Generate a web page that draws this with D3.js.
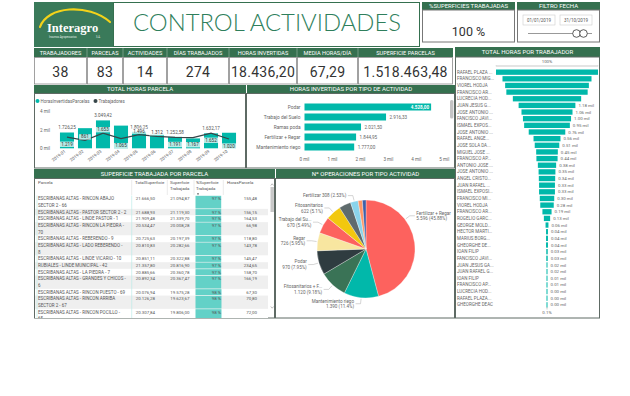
<!DOCTYPE html>
<html>
<head>
<meta charset="utf-8">
<script src="https://cdn.jsdelivr.net/npm/d3@7"></script>
<style>
  body { margin: 0; background: #fff; }
  svg { display: block; font-family: Roboto, "Liberation Sans", sans-serif; }
</style>
</head>
<body>
<svg id="chart" width="630" height="396"></svg>
<script>
// Data
var kpiLabels = ['TRABAJADORES', 'PARCELAS', 'ACTIVIDADES', 'DÍAS TRABAJADOS', 'HORAS INVERTIDAS', 'MEDIA HORAS/DÍA', 'SUPERFICIE PARCELAS'];
var kpiValues = ['38', '83', '14', '274', '18.436,20', '67,29', '1.518.463,48'];
var pctSuperficies = '100 %';
var fechaDesde = '01/01/2019';
var fechaHasta = '31/10/2019';

var meses = ['2019-01', '2019-02', '2019-03', '2019-04', '2019-05', '2019-06', '2019-07', '2019-08', '2019-09', '2019-10'];
var horasMes = [1726.25, 2200, 3049.42, 2480, 1806.25, 1500, 1252.58, 1080, 1632.17, 1700];
var trabajadoresMes = [1219, 861, 1653, 1065, 1496, 1312, 1191, 1167, 1652, 1020];

var actividades = ['Podar', 'Trabajo del Suelo', 'Ramas poda', 'Fertilizar + Regar', 'Mantenimiento riego'];
var horasActividad = [4528, 2916.33, 2021.5, 1844.95, 1777];

// parcel names as the table wraps them (\n = line break in the cell)
var parcelas = [
  'ESCRIBANAS ALTAS - RINCON ABAJO\nSECTOR 2 - 66',
  'ESCRIBANAS ALTAS - PASTOR SECTOR 2 - 2',
  'ESCRIBANAS ALTAS - LINDE PASTOR - 1',
  'ESCRIBANAS ALTAS - RINCON LA PIEDRA -\n70',
  'ESCRIBANAS ALTAS - REBERENDO - 9',
  'ESCRIBANAS ALTAS - LADO REBERENDO -\n8',
  'ESCRIBANAS ALTAS - LINDE VICARIO - 10',
  'RUBIALES - LINDE MUNICIPAL - 42',
  'ESCRIBANAS ALTAS - LA PIEDRA - 7',
  'ESCRIBANAS ALTAS - GRANDES Y CHICOS -\n6',
  'ESCRIBANAS ALTAS - RINCON PUESTO - 69',
  'ESCRIBANAS ALTAS - RINCON ARRIBA\nSECTOR 2 - 67',
  'ESCRIBANAS ALTAS - RINCON POCILLO -\n65'
];
var totalSuperficie = [21666.50, 21688.93, 21909.48, 20534.47, 20725.63, 20810.83, 20851.11, 21357.80, 20885.66, 20892.34, 20076.94, 20126.28, 20307.84];
var superficieTrabajada = [21094.87, 21119.30, 21339.70, 20008.28, 20197.39, 20282.66, 20322.88, 20816.90, 20360.78, 20367.47, 19575.28, 19623.67, 19806.00];
var pctSuperficie = [97, 97, 97, 97, 97, 97, 97, 97, 97, 97, 98, 98, 98];
var horasParcela = [155.48, 156.15, 164.53, 66.98, 118.80, 143.78, 145.47, 234.65, 158.70, 166.19, 67.30, 70.80, 72.00];

var tiposOperacion = ['Fertilizar + Regar', 'Mantenimiento riego', 'Fitosanitarios + F...', 'Podar', 'Regar', 'Trabajo del Su...', 'Fitosanitarios', 'Ramas poda', 'Fertilizar', 'Desbroce', 'Otros'];
var operaciones = [5596, 1390, 1120, 970, 726, 670, 622, 480, 308, 170, 145];
var sinEtiqueta = ['Ramas poda', 'Desbroce', 'Otros'];

var trabajadores = ['RAFAEL PLAZA ...', 'FRANCISCO MIG...', 'VIOREL HODJA', 'FRANCISCO AR...', 'LUCRECIA HOD...',
  'JUAN JESUS G...', 'JOSE ANTONIO ...', 'FANCISCO JAVI...', 'ISMAEL EXPOS...', 'JOSE ANTONIO ...',
  'RAFAEL ANGE...', 'JOSE SOLA DA...', 'MIGUEL JOSE ...', 'FRANCISCO AP...', 'ANTONIO JOSE ...',
  'JOSE ANTONIO ...', 'ANGEL CRISTO...', 'JUAN RAFAEL ...', 'ISMAEL EXPOSI...', 'FRANCISCO MI...',
  'VIOREL HODJA', 'FRANCISCO AR...', 'ROGELIO GARC...', 'GEORGE MOLD...', 'HECTOR MARTI...',
  'MARIUS BORG...', 'GHEORGHE DE...', 'IOAN FILIP', 'FANCISCO JAVI...', 'JUAN JESUS GA...',
  'JUAN RAFAEL G...', 'IOAN FILIP', 'FRANCISCO AP...', 'LUCRECIA HOD...', 'RAFAEL PLAZA...', 'GHEORGHE DEAC'];
var horasTrabajador = [2120, 1850, 1740, 1690, 1420, 1180, 1060, 1000, 950, 760, 560, 510, 450, 440, 380, 350,
  340, 330, 330, 300, 280, 190, 130, 60, 40, 40, 40, 30, 30, 20, 20, 10, 10, 4, 3, 2];

// Styles
var GREEN = '#35704f';
var TEAL = '#01B8AA';
var DARK = '#374649';
var TXT = '#666';
var BORDER = '#5e6a64';

var es = d3.formatLocale({ decimal: ',', thousands: '.', grouping: [3], currency: ['', ''] });
var f2 = es.format(',.2f');
var f0 = es.format(',.0f');

var svg = d3.select('#chart');

function header(x0, x1, y0, y1, label) {
  svg.append('rect').attr('x', x0).attr('y', y0).attr('width', x1 - x0).attr('height', y1 - y0).attr('fill', GREEN);
  svg.append('text').attr('x', (x0 + x1) / 2).attr('y', (y0 + y1) / 2 + 2.1)
    .attr('text-anchor', 'middle').attr('fill', '#fff').attr('font-size', 6).text(label);
}
function frame(x0, x1, y0, y1, stroke) {
  svg.append('rect').attr('x', x0 + 0.5).attr('y', y0).attr('width', x1 - x0 - 1).attr('height', y1 - y0 - 0.5)
    .attr('fill', '#fff').attr('stroke', stroke || BORDER).attr('stroke-width', 1);
}

// ---------- Logo ----------
svg.append('rect').attr('x', 34).attr('y', 2).attr('width', 79).attr('height', 45).attr('fill', '#3a7a5a');
svg.append('path').attr('d', 'M40,27 C47,6 88,3 110,22').attr('fill', 'none')
  .attr('stroke', '#f3d21a').attr('stroke-width', 2.2).attr('stroke-linecap', 'round');
svg.append('text').attr('x', 47).attr('y', 32).attr('fill', '#fff').attr('font-size', 12.5)
  .attr('font-weight', 'bold').attr('font-family', '"Liberation Serif", serif').text('Interagro');
svg.append('text').attr('x', 49).attr('y', 37.5).attr('fill', '#e0eee6').attr('font-size', 2.6).text('Insumos Agropecuarios');
svg.append('text').attr('x', 96).attr('y', 37.5).attr('fill', '#e0eee6').attr('font-size', 2.6).text('S.A.');

// ---------- Title ----------
svg.append('rect').attr('x', 113.5).attr('y', 2.5).attr('width', 306).attr('height', 44)
  .attr('fill', '#fff').attr('stroke', GREEN).attr('stroke-width', 1);
svg.append('text').attr('x', 267).attr('y', 30.5).attr('text-anchor', 'middle').attr('fill', '#2f7f5c')
  .attr('font-size', 23).attr('font-family', 'Lato, Roboto, sans-serif').attr('font-weight', 300)
  .attr('textLength', 268).attr('lengthAdjust', 'spacingAndGlyphs').text('CONTROL ACTIVIDADES');

// ---------- % superficies ----------
header(422, 515, 2, 10, '%SUPERFICIES TRABAJADAS');
frame(422, 515, 10, 42.5, '#777');
svg.append('text').attr('x', 468.5).attr('y', 35.5).attr('text-anchor', 'middle').attr('fill', '#333')
  .attr('font-size', 12.5).text(pctSuperficies);

// ---------- Filtro fecha ----------
header(517, 600, 2, 10, 'FILTRO FECHA');
frame(517, 600, 10, 42.5, '#777');
[[523, fechaDesde], [560, fechaHasta]].forEach(function (d) {
  svg.append('rect').attr('x', d[0]).attr('y', 15).attr('width', 32).attr('height', 10)
    .attr('fill', '#fff').attr('stroke', '#ccc').attr('stroke-width', 0.6);
  svg.append('text').attr('x', d[0] + 16).attr('y', 21.6).attr('text-anchor', 'middle')
    .attr('font-size', 4.5).attr('fill', '#555').text(d[1]);
});
svg.append('line').attr('x1', 528).attr('x2', 592).attr('y1', 33.5).attr('y2', 33.5).attr('stroke', '#999').attr('stroke-width', 1.2);
[576.5, 583.5].forEach(function (cx) {
  svg.append('circle').attr('cx', cx).attr('cy', 33.5).attr('r', 3.8).attr('fill', '#fff').attr('stroke', '#333').attr('stroke-width', 0.8);
});

// ---------- KPI row ----------
var kpiEdges = [34, 87, 123, 167, 229, 297, 358, 453];
kpiLabels.forEach(function (lab, i) {
  var x0 = kpiEdges[i], x1 = kpiEdges[i + 1];
  svg.append('rect').attr('x', x0).attr('y', 48).attr('width', x1 - x0).attr('height', 9).attr('fill', GREEN);
  if (i > 0) svg.append('line').attr('x1', x0).attr('x2', x0).attr('y1', 48).attr('y2', 57).attr('stroke', '#9bb8a8').attr('stroke-width', 0.6);
  svg.append('text').attr('x', (x0 + x1) / 2).attr('y', 54.6).attr('text-anchor', 'middle')
    .attr('fill', '#fff').attr('font-size', 5.6).text(lab);
  svg.append('rect').attr('x', x0 + 0.5).attr('y', 57.5).attr('width', x1 - x0 - 1).attr('height', 26.5)
    .attr('fill', '#fff').attr('stroke', '#8a8a8a').attr('stroke-width', 0.8);
  svg.append('text').attr('x', (x0 + x1) / 2).attr('y', 77).attr('text-anchor', 'middle')
    .attr('fill', '#333').attr('font-size', 14).attr('letter-spacing', 0.3).text(kpiValues[i]);
});

// ---------- Total horas parcela ----------
header(34, 246, 85, 93.5, 'TOTAL HORAS PARCELA');
frame(34, 246, 93.5, 168.5);

svg.append('circle').attr('cx', 37.5).attr('cy', 101).attr('r', 2).attr('fill', TEAL);
svg.append('text').attr('x', 40.5).attr('y', 102.6).attr('font-size', 4.5).attr('fill', TXT).text('HorasInvertidasParcelas');
svg.append('circle').attr('cx', 95.5).attr('cy', 101).attr('r', 2).attr('fill', DARK);
svg.append('text').attr('x', 98.5).attr('y', 102.6).attr('font-size', 4.5).attr('fill', TXT).text('Trabajadores');

var xm = d3.scaleBand().domain(meses).range([56, 240]).padding(0.22);
var ym = d3.scaleLinear().domain([0, 4000]).range([148.3, 111.7]);

svg.append('g').selectAll('text').data([0, 2000, 4000]).enter().append('text')
  .attr('x', 50).attr('y', function (d) { return ym(d) + 1.6; }).attr('text-anchor', 'end')
  .attr('font-size', 4.6).attr('fill', TXT).text(function (d) { return (d / 1000) + ' mil'; });

svg.append('g').selectAll('rect').data(horasMes).enter().append('rect')
  .attr('x', function (d, i) { return xm(meses[i]); })
  .attr('y', function (d) { return ym(d); })
  .attr('width', xm.bandwidth())
  .attr('height', function (d) { return ym(0) - ym(d); })
  .attr('fill', TEAL);

svg.append('g').selectAll('text').data(d3.range(0, horasMes.length, 2)).enter().append('text')
  .attr('x', function (i) { return xm(meses[i]) + xm.bandwidth() / 2; })
  .attr('y', function (i) { return ym(horasMes[i]) - 3.2; })
  .attr('text-anchor', 'middle').attr('font-size', 4.6).attr('fill', '#555').text(function (i) { return f2(horasMes[i]); });

svg.append('g').selectAll('text').data(meses).enter().append('text')
  .attr('transform', function (d) { return 'translate(' + (xm(d) + xm.bandwidth() / 2 - 1) + ',152) rotate(-38)'; })
  .attr('text-anchor', 'end').attr('font-size', 4.4).attr('fill', TXT).text(function (d) { return d; });

var line = d3.line()
  .x(function (d, i) { return xm(meses[i]) + xm.bandwidth() / 2; })
  .y(function (d) { return ym(d); });
svg.append('path').datum(trabajadoresMes).attr('d', line).attr('fill', 'none').attr('stroke', DARK).attr('stroke-width', 1.2);

var lineLabelBelow = [true, false, false, true, false, false, true, true, true, true];
trabajadoresMes.forEach(function (v, i) {
  var cx = xm(meses[i]) + xm.bandwidth() / 2;
  var cy = ym(v) + (lineLabelBelow[i] ? 7 : -3.6);
  var g = svg.append('g');
  var t = g.append('text').attr('x', cx).attr('y', cy + 1.6).attr('text-anchor', 'middle')
    .attr('font-size', 4.6).attr('fill', '#333').text(f0(v));
  var w = t.node().getComputedTextLength() + 4;
  g.insert('rect', 'text').attr('x', cx - w / 2).attr('y', cy - 2.6).attr('width', w).attr('height', 5.4)
    .attr('fill', '#fff').attr('fill-opacity', 0.72);
});

// ---------- Horas invertidas por tipo de actividad ----------
header(247, 455, 85, 93.5, 'HORAS INVERTIDAS POR TIPO DE ACTIVIDAD');
frame(246, 455, 93.5, 168.5);

var ya = d3.scaleBand().domain(actividades).range([102, 152]).paddingInner(0.3).paddingOuter(0.15);
var xa = d3.scaleLinear().domain([0, 5000]).range([304.5, 444.3]);

svg.append('g').selectAll('text').data(xa.ticks(5)).enter().append('text')
  .attr('x', function (d) { return xa(d); }).attr('y', 161).attr('text-anchor', 'middle')
  .attr('font-size', 4.6).attr('fill', TXT).text(function (d) { return (d / 1000) + ' mil'; });

svg.append('g').selectAll('text').data(actividades).enter().append('text')
  .attr('x', 300.5).attr('y', function (d) { return ya(d) + ya.bandwidth() / 2 + 1.7; })
  .attr('text-anchor', 'end').attr('font-size', 4.8).attr('fill', TXT).text(function (d) { return d; });

svg.append('g').selectAll('rect').data(horasActividad).enter().append('rect')
  .attr('x', xa(0)).attr('y', function (d, i) { return ya(actividades[i]); })
  .attr('width', function (d) { return xa(d) - xa(0); }).attr('height', ya.bandwidth()).attr('fill', TEAL);

horasActividad.forEach(function (v, i) {
  var yy = ya(actividades[i]) + ya.bandwidth() / 2 + 1.7;
  var inside = xa(v) + 24 > xa(5000);
  svg.append('text').attr('x', inside ? xa(v) - 2 : xa(v) + 3.5).attr('y', yy)
    .attr('text-anchor', inside ? 'end' : 'start').attr('font-size', 4.6)
    .attr('fill', inside ? '#fff' : TXT).attr('font-weight', inside ? 'bold' : 'normal').text(f2(v));
});
svg.append('rect').attr('x', 450).attr('y', 100).attr('width', 3.4).attr('height', 18.5).attr('rx', 1.5).attr('fill', '#c4c4c4');

// ---------- Superficie trabajada por parcela ----------
header(34, 275, 169, 178.5, 'SUPERFICIE TRABAJADA POR PARCELA');
frame(34, 275, 178.5, 318.5);

var TFS = 4.4, PFS = 4.5;
var headCols = [[38, ['Parcela']], [135, ['TotalSuperficie']], [170, ['Superficie', 'Trabajada']],
  [196, ['%Superficie', 'Trabajada']], [227, ['HorasParcela']]];
headCols.forEach(function (c) {
  c[1].forEach(function (s, k) {
    svg.append('text').attr('x', c[0]).attr('y', 184 + k * 6.4).attr('font-size', TFS).attr('fill', '#555').text(s);
  });
});
svg.append('path').attr('d', 'M197,193.2 L199,193.2 L198,195.2 Z').attr('fill', '#555');
[131.7, 167.3, 194, 223.3].forEach(function (x) {
  svg.append('line').attr('x1', x).attr('x2', x).attr('y1', 180).attr('y2', 195).attr('stroke', '#ddd').attr('stroke-width', 0.6);
});

svg.append('clipPath').attr('id', 'tclip').append('rect').attr('x', 34).attr('y', 195).attr('width', 241).attr('height', 123);
var tbody = svg.append('g').attr('clip-path', 'url(#tclip)');

var LH = 6.67;
var xPct = d3.scaleLinear().domain([0, 100]).range([0, 26.5]);
var rowTop = 195.5;
parcelas.forEach(function (p, i) {
  var lines = p.split('\n');
  var h = lines.length * LH;
  tbody.append('rect').attr('x', 35).attr('y', rowTop).attr('width', 233).attr('height', h)
    .attr('fill', i % 2 ? '#efefef' : '#fff');
  lines.forEach(function (s, k) {
    tbody.append('text').attr('x', 38).attr('y', rowTop + 4.7 + k * LH).attr('font-size', PFS).attr('fill', '#555').text(s);
  });
  tbody.append('rect').attr('x', 195.5).attr('y', rowTop + 0.3).attr('width', xPct(pctSuperficie[i]))
    .attr('height', h - 0.6).attr('fill', '#63d1c7');
  var by = rowTop + 4.7;
  [[155, f2(totalSuperficie[i])], [189.5, f2(superficieTrabajada[i])], [221, pctSuperficie[i] + ' %'], [257, f2(horasParcela[i])]]
    .forEach(function (c) {
      tbody.append('text').attr('x', c[0]).attr('y', by).attr('text-anchor', 'end').attr('font-size', TFS).attr('fill', '#555').text(c[1]);
    });
  rowTop += h;
});
[37, 131.7].forEach(function (x) {
  tbody.append('line').attr('x1', x).attr('x2', x).attr('y1', 195.5).attr('y2', 318).attr('stroke', '#b5ebe5').attr('stroke-width', 0.6);
});
svg.append('rect').attr('x', 270.5).attr('y', 187).attr('width', 3.4).attr('height', 25).attr('fill', '#c8c8c8');
svg.append('path').attr('d', 'M270.8,185.5 L272.2,183.8 L273.6,185.5').attr('fill', 'none').attr('stroke', '#777').attr('stroke-width', 0.5);
svg.append('path').attr('d', 'M270.8,306.5 L272.2,308.2 L273.6,306.5').attr('fill', 'none').attr('stroke', '#777').attr('stroke-width', 0.5);

// ---------- Nº operaciones por tipo actividad ----------
header(276, 455, 169, 178.5, 'Nº OPERACIONES POR TIPO ACTIVIDAD');
frame(275, 455, 178.5, 318.5);

var pieColors = ['#FD625E', '#01B8AA', '#3a7356', '#2f3c40', '#F8E6A0', '#FD625E', '#F2C80F', '#5F6B6D', '#8AD4EB', '#FE9666', '#3f5fa8'];
var pcx = 366, pcy = 249, pr = 49;
var total = d3.sum(operaciones);
var arcs = d3.pie().sort(null).value(function (d) { return d; })(operaciones);
var arc = d3.arc().innerRadius(0).outerRadius(pr);
var pg = svg.append('g').attr('transform', 'translate(' + pcx + ',' + pcy + ')');
pg.selectAll('path').data(arcs).enter().append('path').attr('d', arc)
  .attr('fill', function (d, i) { return pieColors[i]; }).attr('stroke', '#fff').attr('stroke-width', 0.3);

var pctFmt = d3.format('.2~f');
arcs.forEach(function (a, i) {
  var name = tiposOperacion[i];
  if (sinEtiqueta.indexOf(name) >= 0) return;
  var ang = i === 0 ? a.startAngle + 0.32 * (a.endAngle - a.startAngle) : (a.startAngle + a.endAngle) / 2;
  var s = Math.sin(ang), c = -Math.cos(ang);
  var p1 = [pcx + s * (pr + 1), pcy + c * (pr + 1)];
  var p2 = [pcx + s * (pr + 6), pcy + c * (pr + 6)];
  var right = s > 0;
  var p3 = [p2[0] + (right ? 5 : -5), p2[1]];
  svg.append('polyline').attr('points', [p1, p2, p3].map(function (p) { return p.join(','); }).join(' '))
    .attr('fill', 'none').attr('stroke', '#aaa').attr('stroke-width', 0.5);
  var tx = p3[0] + (right ? 1.5 : -1.5);
  var anchor = right ? 'start' : 'end';
  var valTxt = f0(a.data) + ' (' + pctFmt(a.data / total * 100) + '%)';
  if (Math.abs(c) > 0.9 && c < 0) {
    svg.append('text').attr('x', tx).attr('y', p3[1] + 1.6).attr('text-anchor', anchor)
      .attr('font-size', 4.6).attr('fill', TXT).text(name + ' ' + valTxt);
  } else {
    svg.append('text').attr('x', tx).attr('y', p3[1] - 1.2).attr('text-anchor', anchor)
      .attr('font-size', 4.6).attr('fill', TXT).text(name);
    svg.append('text').attr('x', tx).attr('y', p3[1] + 4.6).attr('text-anchor', anchor)
      .attr('font-size', 4.6).attr('fill', TXT).text(valTxt);
  }
});

// ---------- Total horas por trabajador (funnel) ----------
header(455, 600, 47, 57, 'TOTAL HORAS POR TRABAJADOR');
frame(455, 600, 57, 318.5);

var fcx = 547;
var idx = d3.range(trabajadores.length);
var fy = d3.scaleBand().domain(idx).range([69.5, 307.5]).paddingInner(0.2);
var fw = d3.scaleLinear().domain([0, d3.max(horasTrabajador)]).range([0, 102]);
function bw(i) { return Math.max(fw(horasTrabajador[i]), 1); }

svg.append('text').attr('x', fcx).attr('y', 63).attr('text-anchor', 'middle').attr('font-size', 4.4).attr('fill', TXT).text('100%');
svg.append('rect').attr('x', fcx - 51).attr('y', 65.2).attr('width', 102).attr('height', 1.6)
  .attr('fill', '#f0f0f0').attr('stroke', '#ccc').attr('stroke-width', 0.4);

svg.append('g').selectAll('rect').data(idx).enter().append('rect')
  .attr('x', function (i) { return fcx - bw(i) / 2; })
  .attr('y', function (i) { return fy(i); })
  .attr('width', function (i) { return bw(i); })
  .attr('height', fy.bandwidth()).attr('fill', TEAL);

svg.append('g').selectAll('text').data(idx).enter().append('text')
  .attr('x', 457).attr('y', function (i) { return fy(i) + fy.bandwidth() / 2 + 1.6; })
  .attr('font-size', 4.5).attr('fill', TXT).text(function (i) { return trabajadores[i]; });

svg.append('g').selectAll('text').data(idx.filter(function (i) { return fcx + bw(i) / 2 + 21 < 599; })).enter().append('text')
  .attr('x', function (i) { return fcx + bw(i) / 2 + 3; })
  .attr('y', function (i) { return fy(i) + fy.bandwidth() / 2 + 1.6; })
  .attr('font-size', 4.4).attr('fill', TXT).text(function (i) { return (horasTrabajador[i] / 1000).toFixed(2) + ' mil'; });

svg.append('line').attr('x1', fcx).attr('x2', fcx).attr('y1', 307).attr('y2', 309.5).attr('stroke', '#999').attr('stroke-width', 0.5);
svg.append('text').attr('x', fcx).attr('y', 314).attr('text-anchor', 'middle').attr('font-size', 4.4).attr('fill', TXT)
  .text(d3.format('.1%')(horasTrabajador[horasTrabajador.length - 1] / horasTrabajador[0]));
</script>
</body>
</html>
